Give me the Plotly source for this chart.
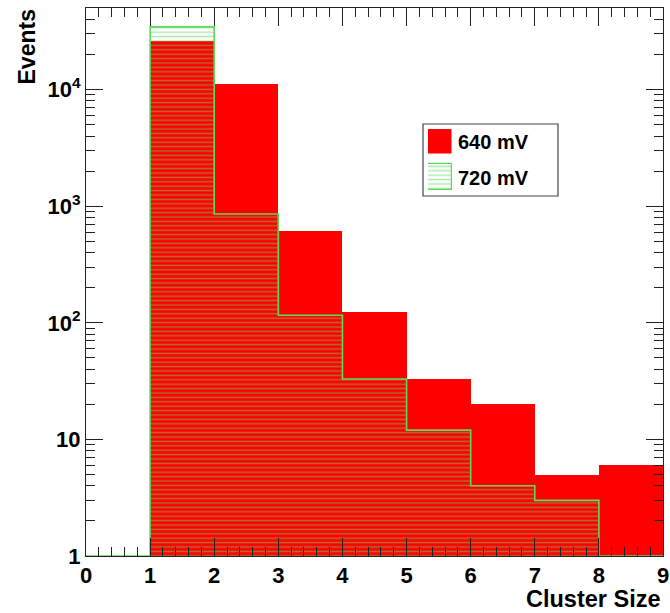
import numpy as np
import plotly.graph_objects as go

# Cluster-size histograms, bins [0,1), [1,2), ... [8,9)
bin_edges = [0, 1, 2, 3, 4, 5, 6, 7, 8, 9]
counts_640 = [0, 26000, 11200, 616, 124, 33, 20, 5, 6]
counts_720 = [0, 34500, 857, 116, 33, 12, 4, 3, 0]
series_names = ["640 mV", "720 mV"]

y_tick_vals = [1, 10, 100, 1000, 10000]
y_tick_text = ["1", "10", "10<sup>2</sup>", "10<sup>3</sup>", "10<sup>4</sup>"]
x_tick_vals = [0, 1, 2, 3, 4, 5, 6, 7, 8, 9]

RED = "#ff0000"
GREEN = "#5fd85f"
FRAME = "#222222"
FONT = "Liberation Sans, Arial, Helvetica, sans-serif"

centers = [(a + b) / 2 for a, b in zip(bin_edges[:-1], bin_edges[1:])]
widths = [b - a for a, b in zip(bin_edges[:-1], bin_edges[1:])]
y_floor = 1.0
log_top = 4.70

fig = go.Figure()

# solid red histogram
fig.add_trace(go.Bar(
    x=centers, y=[v if v > 0 else None for v in counts_640], width=widths,
    marker=dict(color=RED, line=dict(width=0)),
    name=series_names[0], showlegend=False,
))

# hatched green histogram drawn over it
fig.add_trace(go.Bar(
    x=centers, y=[v if v > 0 else None for v in counts_720], width=widths,
    marker=dict(color="rgba(0,0,0,0)", line=dict(width=0),
                pattern=dict(shape="-", fgcolor=GREEN, bgcolor="rgba(0,0,0,0)",
                             size=4.4, solidity=0.34)),
    name=series_names[1], showlegend=False,
))

# step outline of the green histogram (empty bins sit on the axis floor)
outline_y = [v if v > 0 else y_floor for v in counts_720]
fig.add_trace(go.Scatter(
    x=bin_edges, y=outline_y + [outline_y[-1]],
    mode="lines", line=dict(color=GREEN, width=1.6, shape="hv"),
    showlegend=False, hoverinfo="skip",
))

# legend keys in a small inset axis
fig.add_trace(go.Bar(
    x=[0.5], y=[25], base=[36], width=[1], xaxis="x2", yaxis="y2",
    marker=dict(color=RED, line=dict(color="#ff8080", width=1)), showlegend=False,
))
fig.add_trace(go.Bar(
    x=[0.5], y=[26], base=[0], width=[1], xaxis="x2", yaxis="y2",
    marker=dict(color="rgba(0,0,0,0)", line=dict(color=GREEN, width=1.2),
                pattern=dict(shape="-", fgcolor=GREEN, bgcolor="white",
                             size=4.4, solidity=0.34)),
    showlegend=False,
))

W, H = 670, 613
L, R, T, B = 86, 7, 8, 57
pw, ph = W - L - R, H - T - B


def px_x(p):
    return (p - L) / pw


def px_y(p):
    return (H - B - p) / ph


axis_common = dict(
    showline=True, linecolor=FRAME, linewidth=1, mirror="allticks",
    ticks="inside", tickcolor=FRAME, tickwidth=1, showgrid=False, zeroline=False,
    automargin=False,
    tickfont=dict(family=FONT, size=22, color="black", weight="bold"),
)

minor_y = [m * 10 ** k for k in range(0, 5) for m in range(2, 10) if m * 10 ** k < 10 ** log_top]

fig.update_layout(
    width=W, height=H,
    margin=dict(l=L, r=R, t=T, b=B, autoexpand=False),
    paper_bgcolor="white", plot_bgcolor="white",
    barmode="overlay", bargap=0,
    xaxis=dict(range=[0, 9], tickmode="array", tickvals=x_tick_vals, ticklen=18,
               minor=dict(dtick=0.2, tick0=0, ticks="inside", ticklen=9,
                          tickcolor=FRAME, tickwidth=1, showgrid=False),
               **axis_common),
    yaxis=dict(type="log", range=[0, log_top], tickmode="array",
               tickvals=y_tick_vals, ticktext=y_tick_text, ticklen=17,
               minor=dict(tickmode="array", tickvals=minor_y, ticks="inside", ticklen=9,
                          tickcolor=FRAME, tickwidth=1, showgrid=False),
               **axis_common),
    xaxis2=dict(domain=[px_x(428), px_x(452)], range=[0, 1], anchor="y2",
                visible=False, fixedrange=True, automargin=False),
    yaxis2=dict(domain=[px_y(190), px_y(129)], range=[0, 61], anchor="x2",
                visible=False, fixedrange=True, automargin=False),
    shapes=[dict(type="rect", xref="paper", yref="paper",
                 x0=px_x(423), x1=px_x(558), y0=px_y(196), y1=px_y(124),
                 line=dict(color="#444444", width=1.2), fillcolor="rgba(0,0,0,0)",
                 layer="below")],
    annotations=[
        dict(text=series_names[0], xref="paper", yref="paper", x=px_x(456), y=px_y(142),
             xanchor="left", yanchor="middle", showarrow=False,
             font=dict(family=FONT, size=20, color="black", weight="bold")),
        dict(text=series_names[1], xref="paper", yref="paper", x=px_x(456), y=px_y(178),
             xanchor="left", yanchor="middle", showarrow=False,
             font=dict(family=FONT, size=20, color="black", weight="bold")),
        dict(text="Events", xref="paper", yref="paper", x=px_x(26), y=1.0,
             xanchor="center", yanchor="top", textangle=-90, showarrow=False,
             font=dict(family=FONT, size=23, color="black", weight="bold")),
        dict(text="Cluster Size", xref="paper", yref="paper", x=1.0, y=px_y(599),
             xanchor="right", yanchor="middle", showarrow=False,
             font=dict(family=FONT, size=23.5, color="black", weight="bold")),
    ],
)

fig.write_html("out.html")
